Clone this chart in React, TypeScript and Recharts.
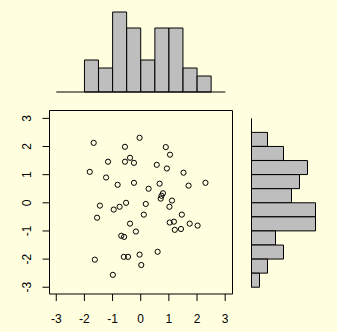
import {
  ScatterChart,
  Scatter,
  BarChart,
  Bar,
  XAxis,
  YAxis,
  ReferenceArea,
} from "recharts";

const xs = [
  -1.67, -0.04, -0.56, 0.89, 1.04, -0.38, -1.16, -0.56, -0.24, 0.57,
  0.93, -1.81, 1.52, -1.23, -0.82, -0.24, 0.28, 0.67, 1.7, 2.3,
  0.79, 0.74, 0.71, 1.11, -1.45, -0.52, 0.18, -0.75, -0.96, 1.02,
  -1.55, 0.11, 1.46, -0.38, 1.03, 1.18, 1.74, 2.02, 1.21, 1.43,
  -0.17, -0.69, -0.59, 0.6, -0.04, -1.63, -0.6, -0.45, 0.02, -0.99,
];
const ys = [
  2.13, 2.31, 1.99, 1.98, 1.71, 1.6, 1.46, 1.46, 1.42, 1.35,
  1.22, 1.1, 1.07, 0.9, 0.64, 0.71, 0.5, 0.68, 0.61, 0.71,
  0.34, 0.25, 0.15, 0.08, -0.1, 0.0, -0.04, -0.14, -0.24, -0.14,
  -0.53, -0.42, -0.42, -0.74, -0.7, -0.67, -0.74, -0.81, -0.96, -0.93,
  -1.02, -1.17, -1.21, -1.74, -1.84, -2.02, -1.92, -1.92, -2.21, -2.56,
];

// bins of 0.5 from -3 to 3
const binStarts = [-3, -2.5, -2, -1.5, -1, -0.5, 0, 0.5, 1, 1.5, 2, 2.5];
const xCounts = [0, 0, 4, 3, 10, 8, 4, 8, 8, 3, 2, 0];
const yCounts = [1, 2, 4, 3, 8, 8, 5, 6, 7, 4, 2, 0];

const ticks = [-3, -2, -1, 0, 1, 2, 3];

const points = xs.map((x, i) => ({ x, y: ys[i] }));
const topHist = binStarts.map((b, i) => ({ bin: String(b), n: xCounts[i] }));
const sideHist = binStarts
  .map((b, i) => ({ bin: String(b), n: yCounts[i] }))
  .reverse();

const font = "'Liberation Sans', Arial, sans-serif";

const XTick = (props: any) => (
  <text x={props.x} y={props.y + 9} textAnchor="middle" fontSize={12} fontFamily={font} fill="#000">
    {props.payload.value}
  </text>
);

const YTick = (props: any) => (
  <text
    x={props.x}
    y={props.y}
    transform={`rotate(-90, ${props.x}, ${props.y})`}
    textAnchor="middle"
    fontSize={12}
    fontFamily={font}
    fill="#000"
  >
    {props.payload.value}
  </text>
);

const Dot = (props: any) => (
  <circle cx={props.cx} cy={props.cy} r={2.6} fill="none" stroke="#000" strokeWidth={1} />
);

const abs = { position: "absolute" as const, left: 0, top: 0 };

export default function App() {
  return (
    <div style={{ position: "absolute", left: 0, top: 0, width: 337, height: 332, background: "#FFFFE0" }}>
      <div style={abs}>
        <ScatterChart width={337} height={332} margin={{ top: 110.5, right: 104.5, bottom: 0, left: 0 }}>
          <XAxis
            type="number"
            dataKey="x"
            domain={[-3.24, 3.26]}
            ticks={ticks}
            height={38}
            axisLine={false}
            tickLine={{ stroke: "#000" }}
            tickSize={7}
            tickMargin={13}
            tick={<XTick />}
            allowDataOverflow
          />
          <YAxis
            type="number"
            dataKey="y"
            domain={[-3.24, 3.28]}
            ticks={ticks}
            width={49.5}
            axisLine={false}
            tickLine={{ stroke: "#000" }}
            tickSize={7}
            tickMargin={11}
            tick={<YTick />}
            allowDataOverflow
          />
          <ReferenceArea x1={-3.24} x2={3.26} y1={-3.24} y2={3.28} fill="none" stroke="#000" strokeWidth={1} ifOverflow="visible" />
          <Scatter data={points} shape={<Dot />} isAnimationActive={false} />
        </ScatterChart>
      </div>
      <div style={abs}>
        <BarChart width={337} height={100} data={topHist} barCategoryGap={0} margin={{ top: 12, right: 111.7, bottom: 0, left: 56.3 }}>
          <XAxis dataKey="bin" height={8} tick={false} tickLine={false} axisLine={{ stroke: "#000" }} />
          <YAxis hide domain={[0, 10]} />
          <Bar dataKey="n" fill="#BEBEBE" stroke="#000" strokeWidth={1} isAnimationActive={false} />
        </BarChart>
      </div>
      <div style={abs}>
        <BarChart
          width={337}
          height={332}
          data={sideHist}
          layout="vertical"
          barCategoryGap={0}
          margin={{ top: 118.3, right: 21.5, bottom: 44.7, left: 0 }}
        >
          <YAxis type="category" dataKey="bin" width={251.5} tick={false} tickLine={false} axisLine={{ stroke: "#000" }} />
          <XAxis type="number" hide domain={[0, 8]} />
          <Bar dataKey="n" fill="#BEBEBE" stroke="#000" strokeWidth={1} isAnimationActive={false} />
        </BarChart>
      </div>
    </div>
  );
}
